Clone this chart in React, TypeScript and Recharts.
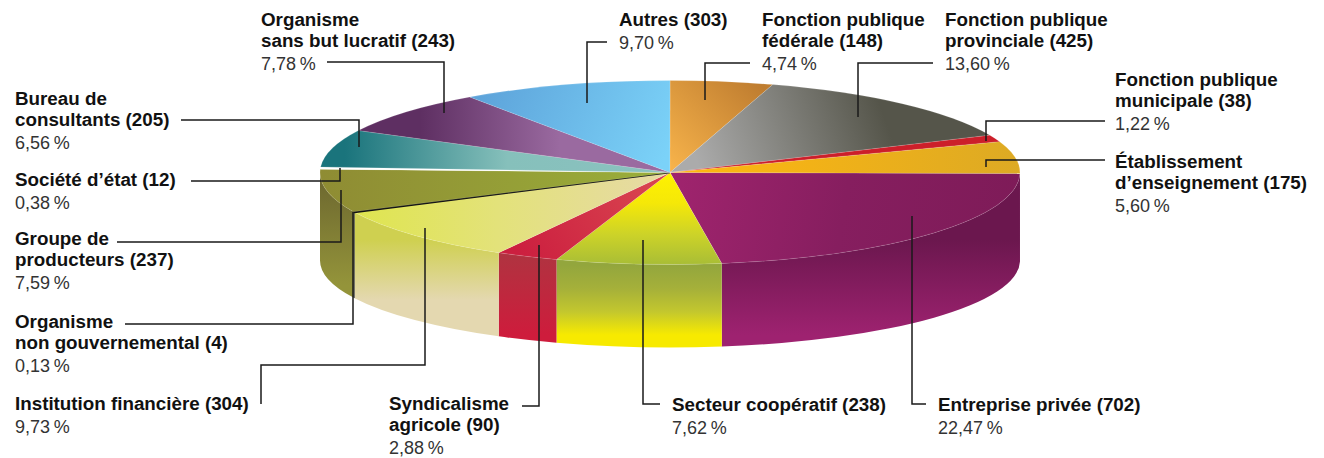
import React from 'react';
import { PieChart, Pie } from 'recharts';

const labelLines: string[][] = [
  ['Entreprise privée (702)'],
  ['Secteur coopératif (238)'],
  ['Syndicalisme', 'agricole (90)'],
  ['Institution financière (304)'],
  ['Organisme', 'non gouvernemental (4)'],
  ['Groupe de', 'producteurs (237)'],
  ['Société d’état (12)'],
  ['Bureau de', 'consultants (205)'],
  ['Organisme', 'sans but lucratif (243)'],
  ['Autres (303)'],
  ['Fonction publique', 'fédérale (148)'],
  ['Fonction publique', 'provinciale (425)'],
  ['Fonction publique', 'municipale (38)'],
  ['Établissement', 'd’enseignement (175)'],
];

const counts = [702, 238, 90, 304, 4, 237, 12, 205, 243, 303, 148, 425, 38, 175];

const shares = [
  '22,47', '7,62', '2,88', '9,73', '0,13', '7,59', '0,38',
  '6,56', '7,78', '9,70', '4,74', '13,60', '1,22', '5,60',
];

// where each caption starts: x, first baseline
const captionAt = [
  [938, 411], [672, 411], [389, 410], [15, 410], [15, 328], [15, 245], [15, 186],
  [15, 105], [261, 26], [619, 26], [762, 26], [945, 26], [1115, 86], [1115, 168],
];

// leader lines, as svg paths
const leaders = [
  'M926 404H912V216',
  'M660 404H643V240',
  'M522 406H539V245',
  'M261 404V365H425V228',
  'M125 324H353V212',
  'M117 242H341V190',
  'M191 181H340V168',
  'M181 120H359V147',
  'M327 62H444V113',
  'M607 42H587V103',
  'M750 63H705V100',
  'M933 63H858V117',
  'M1105 121H986V141',
  'M1105 160H986V167',
];

// gradients in page coordinates: x1, y1, x2, y2, then colours
type Grad = [number, number, number, number, ...string[]];

const topFills: Grad[] = [
  [670, 172, 1020, 230, '#A0246E', '#861E5F', '#7E1B58'],
  [0, 172, 0, 265, '#FFF200', '#F5E808', '#CDD328', '#A8BD36'],
  [640, 172, 520, 255, '#D8434F', '#CC1F3F'],
  [356, 0, 640, 0, '#DFE54F', '#E3E27A', '#E6DBA0'],
  [0, 0, 1, 0, '#111111', '#111111'],
  [321, 0, 670, 0, '#8F8C33', '#9AAF3A'],
  [0, 0, 1, 0, '#FFFFFF', '#FFFFFF'],
  [345, 0, 670, 0, '#1A747C', '#86C0BB', '#8BC2C0'],
  [420, 0, 560, 0, '#5E2F62', '#9A6AA0'],
  [480, 90, 660, 170, '#5DA3DA', '#7BD2F8'],
  [760, 85, 675, 170, '#BF7D30', '#F6B24A'],
  [700, 170, 880, 105, '#ABABAB', '#55554A'],
  [0, 0, 1, 0, '#CC1F2A', '#CC1F2A'],
  [680, 0, 1020, 0, '#FFB70F', '#DDAA24'],
];

const wallFills: Grad[] = [
  [0, 240, 0, 335, '#6B174E', '#9E2270'],
  [0, 265, 0, 335, '#93A63D', '#A5B03A', '#C3C72E', '#F7EA00'],
  [0, 255, 0, 335, '#B03340', '#CE1C3C'],
  [0, 240, 0, 300, '#CFD050', '#E4D8B0'],
  [0, 0, 1, 0, '#111111', '#111111'],
  [0, 185, 0, 285, '#6F6A30', '#94943A'],
  [0, 0, 1, 0, '#FFFFFF', '#FFFFFF'],
];

// the 0,13 % slice is a hairline, only its outline shows
const sliceOutlines: Record<number, [string, number, number]> = {
  4: ['#111', 1, 1.6],
};

const pieData = counts.map((value, idx) => ({ name: labelLines[idx].join(' '), value, idx }));

const CX = 670;
const CY = 172.5;
const RADIUS = 350;
const TOP_RY = 92;
const DEPTH = 88;
const BOTTOM_RY = 87;
const TURN = 0.6; // the pie starts a hair below the horizontal

const Gradient = ({ id, def }: { id: string; def: Grad }) => {
  const [x1, y1, x2, y2, ...colors] = def;
  return (
    <linearGradient id={id} gradientUnits="userSpaceOnUse" x1={x1} y1={y1} x2={x2} y2={y2}>
      {colors.map((c, i) => (
        <stop key={i} offset={i / (colors.length - 1)} stopColor={c} />
      ))}
    </linearGradient>
  );
};

// one slice of the flattened pie: top face, plus the rim for the front half
const TiltedSlice = (props: any) => {
  const { cx, cy, outerRadius, startAngle, endAngle, idx } = props;
  const a0 = -startAngle;
  const a1 = -endAngle;
  const ry = (outerRadius * TOP_RY) / RADIUS;
  const px = (a: number) => cx + outerRadius * Math.cos((a * Math.PI) / 180);
  const py = (a: number, r: number, dy = 0) => cy + dy + r * Math.sin((a * Math.PI) / 180);
  const top = `M${cx} ${cy}L${px(a0)} ${py(a0, ry)}A${outerRadius} ${ry} 0 0 1 ${px(a1)} ${py(a1, ry)}Z`;
  let wall = null;
  if (a0 < 180) {
    const b = Math.min(a1, 180);
    const d =
      `M${px(a0)} ${py(a0, ry)}A${outerRadius} ${ry} 0 0 1 ${px(b)} ${py(b, ry)}` +
      `L${px(b)} ${py(b, BOTTOM_RY, DEPTH)}A${outerRadius} ${BOTTOM_RY} 0 0 0 ${px(a0)} ${py(a0, BOTTOM_RY, DEPTH)}Z`;
    wall = <path d={d} fill={`url(#wall-${idx})`} stroke="none" />;
  }
  const [edge, edgeOpacity, edgeWidth] = sliceOutlines[idx] ?? ['#fff', 0.25, 0.5];
  return (
    <g>
      {wall}
      <path d={top} fill={`url(#top-${idx})`} stroke={edge} strokeOpacity={edgeOpacity} strokeWidth={edgeWidth} />
    </g>
  );
};

const renderCaption = ({ index }: any) => {
  const [x, y] = captionAt[index];
  const lines = labelLines[index];
  return (
    <g key={index}>
      <path d={leaders[index]} fill="none" stroke="#1a1a1a" strokeWidth={1.5} />
      <text x={x} y={y} fontFamily="'Liberation Sans', Arial, sans-serif">
        {lines.map((line, i) => (
          <tspan key={i} x={x} y={y + i * 21} fontSize={18.8} fontWeight="bold" fill="#111">
            {line}
          </tspan>
        ))}
        <tspan x={x} y={y + (lines.length - 1) * 21 + 23} fontSize={18} fill="#333">
          {shares[index]}{'\u2009'}%
        </tspan>
      </text>
    </g>
  );
};

export default function App() {
  return (
    <div style={{ position: 'absolute', left: 0, top: 0, width: 1324, height: 458 }}>
      <PieChart width={1324} height={458} margin={{ top: 0, right: 0, bottom: 0, left: 0 }}>
        <defs>
          {topFills.map((def, i) => (
            <Gradient key={i} id={`top-${i}`} def={def} />
          ))}
          {wallFills.map((def, i) => (
            <Gradient key={i} id={`wall-${i}`} def={def} />
          ))}
        </defs>
        <Pie
          data={pieData}
          dataKey="value"
          cx={CX}
          cy={CY}
          innerRadius={0}
          outerRadius={RADIUS}
          startAngle={-TURN}
          endAngle={-360 - TURN}
          stroke="none"
          shape={TiltedSlice}
          label={renderCaption}
          labelLine={false}
          isAnimationActive={false}
        />
      </PieChart>
    </div>
  );
}
